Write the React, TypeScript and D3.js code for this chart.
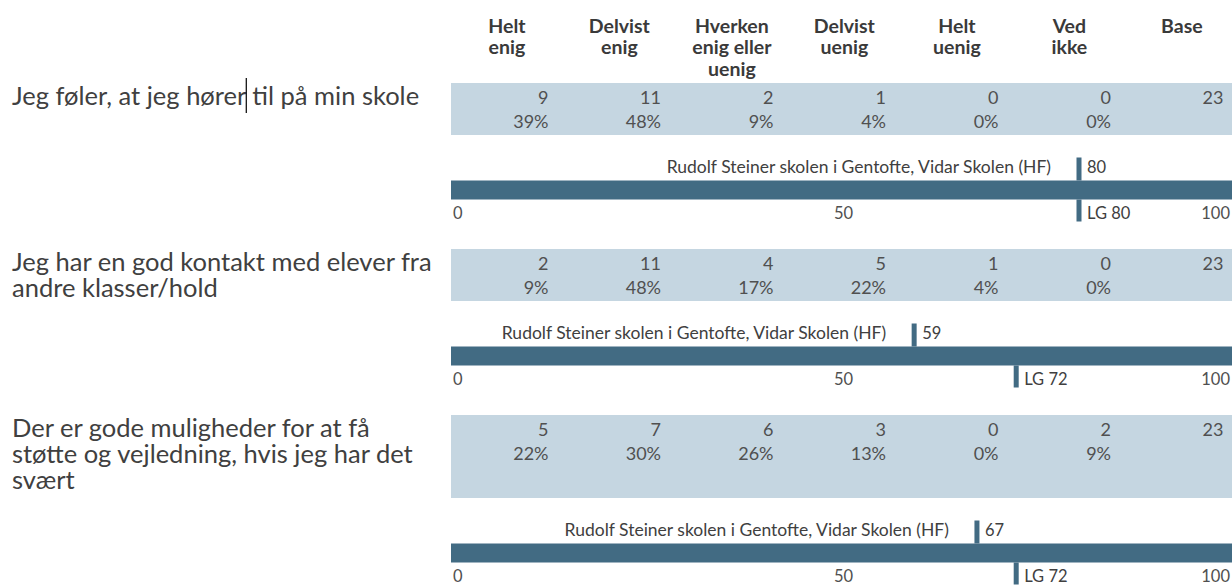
import React, { useEffect, useRef } from "react";
import * as d3 from "d3";

const WIDTH = 1232;
const HEIGHT = 586;

// ---- data ----
const headerLines: string[][] = [
  ["Helt", "enig"],
  ["Delvist", "enig"],
  ["Hverken", "enig eller", "uenig"],
  ["Delvist", "uenig"],
  ["Helt", "uenig"],
  ["Ved", "ikke"],
  ["Base"],
];
const questionLines: string[][] = [
  ["Jeg føler, at jeg hører til på min skole"],
  ["Jeg har en god kontakt med elever fra", "andre klasser/hold"],
  ["Der er gode muligheder for at få", "støtte og vejledning, hvis jeg har det", "svært"],
];
const counts: number[][] = [
  [9, 11, 2, 1, 0, 0],
  [2, 11, 4, 5, 1, 0],
  [5, 7, 6, 3, 0, 2],
];
const percents: number[][] = [
  [39, 48, 9, 4, 0, 0],
  [9, 48, 17, 22, 4, 0],
  [22, 30, 26, 13, 0, 9],
];
const bases: number[] = [23, 23, 23];
const schoolName = "Rudolf Steiner skolen i Gentofte, Vidar Skolen (HF)";
const schoolScores: number[] = [80, 59, 67];
const lgScores: number[] = [80, 72, 72];
const scaleTicks: number[] = [0, 50, 100];

// ---- style ----
const FONT = "Lato, 'Open Sans', sans-serif";
const BAND = "#c5d6e1";
const BAR = "#426b83";
const TXT = "#404040";
const NUM = "#505050";

export default function App() {
  const qRef = useRef<SVGTextElement | null>(null);
  const cursorRef = useRef<SVGLineElement | null>(null);

  const col = d3.scaleBand<number>().domain(d3.range(7)).range([436, 1223.5]);
  const bw = col.bandwidth();
  const x = d3.scaleLinear().domain([0, 100]).range([451, 1236]);

  // vertical layout
  const firstTop = 83;
  const blocks: { top: number; bandH: number; barTop: number }[] = [];
  let top = firstTop;
  questionLines.forEach((lines) => {
    const bandH = lines.length > 2 ? 83 : 52;
    const barTop = top + bandH + 45.5;
    blocks.push({ top, bandH, barTop });
    top = barTop + 68.5;
  });
  const barH = 19;

  useEffect(() => {
    const t = qRef.current;
    const c = cursorRef.current;
    if (t && c) {
      const s = questionLines[0][0];
      const idx = s.indexOf("hører") + "hører".length;
      try {
        const w = (t as any).getSubStringLength(0, idx);
        const cx = 12 + w + 0.5;
        c.setAttribute("x1", String(cx));
        c.setAttribute("x2", String(cx));
      } catch (e) {}
    }
  }, []);

  return (
    <svg
      width={WIDTH}
      height={HEIGHT}
      style={{ position: "absolute", left: 0, top: 0, background: "#fff" }}
      fontFamily={FONT}
    >
      {/* headers */}
      {headerLines.map((lines, i) => (
        <text
          key={"h" + i}
          x={(col(i) as number) + bw * 0.63}
          y={32.5}
          textAnchor="middle"
          fontWeight="bold"
          fontSize={19.5}
          fill="#3a3a3a"
        >
          {lines.map((l, j) => (
            <tspan key={j} x={(col(i) as number) + bw * 0.63} dy={j === 0 ? 0 : 21.5}>
              {l}
            </tspan>
          ))}
        </text>
      ))}

      {blocks.map((b, qi) => {
        const values = [...counts[qi], bases[qi]];
        const sx = x(schoolScores[qi]);
        const lx = x(lgScores[qi]);
        return (
          <g key={"q" + qi}>
            {/* question text */}
            <text
              ref={qi === 0 ? qRef : undefined}
              x={12}
              y={b.top + 21.5}
              fontSize={25.5}
              fill={TXT}
            >
              {questionLines[qi].map((l, j) => (
                <tspan key={j} x={12} dy={j === 0 ? 0 : 26}>
                  {l}
                </tspan>
              ))}
            </text>

            {/* band */}
            <rect x={x(0)} y={b.top} width={x(100) - x(0)} height={b.bandH} fill={BAND} />
            {values.map((v, i) => (
              <text
                key={"n" + i}
                x={(col(i) as number) + bw}
                y={b.top + 20.5}
                textAnchor="end"
                fontSize={18}
                fill={NUM}
              >
                {v}
              </text>
            ))}
            {percents[qi].map((p, i) => (
              <text
                key={"p" + i}
                x={(col(i) as number) + bw}
                y={b.top + 45}
                textAnchor="end"
                fontSize={18}
                fill={NUM}
              >
                {p + "%"}
              </text>
            ))}

            {/* scale bar */}
            <rect x={x(0)} y={b.barTop} width={x(100) - x(0)} height={barH} fill={BAR} />
            {/* school marker */}
            <rect x={sx - 2.5} y={b.barTop - 23} width={5} height={23} fill={BAR} />
            <text x={sx - 28} y={b.barTop - 8} textAnchor="end" fontSize={17.5} fill={TXT}>
              {schoolName}
            </text>
            <text x={sx + 8} y={b.barTop - 8} fontSize={16.5} fill={TXT}>
              {schoolScores[qi]}
            </text>
            {/* LG marker */}
            <rect x={lx - 2.5} y={b.barTop + barH} width={5} height={22} fill={BAR} />
            <text x={lx + 8} y={b.barTop + barH + 19.5} fontSize={16.5} fill={TXT}>
              {"LG " + lgScores[qi]}
            </text>
            {/* ticks */}
            {scaleTicks.map((t, i) => (
              <text
                key={"t" + i}
                x={i === 0 ? x(t) + 2 : i === scaleTicks.length - 1 ? x(t) - 6 : x(t)}
                y={b.barTop + barH + 19.5}
                textAnchor={i === 0 ? "start" : i === scaleTicks.length - 1 ? "end" : "middle"}
                fontSize={16.5}
                fill={NUM}
              >
                {t}
              </text>
            ))}
          </g>
        );
      })}

      {/* text cursor artifact */}
      <line ref={cursorRef} x1={248} x2={248} y1={78} y2={113} stroke="#000" strokeWidth={1.2} />
    </svg>
  );
}
